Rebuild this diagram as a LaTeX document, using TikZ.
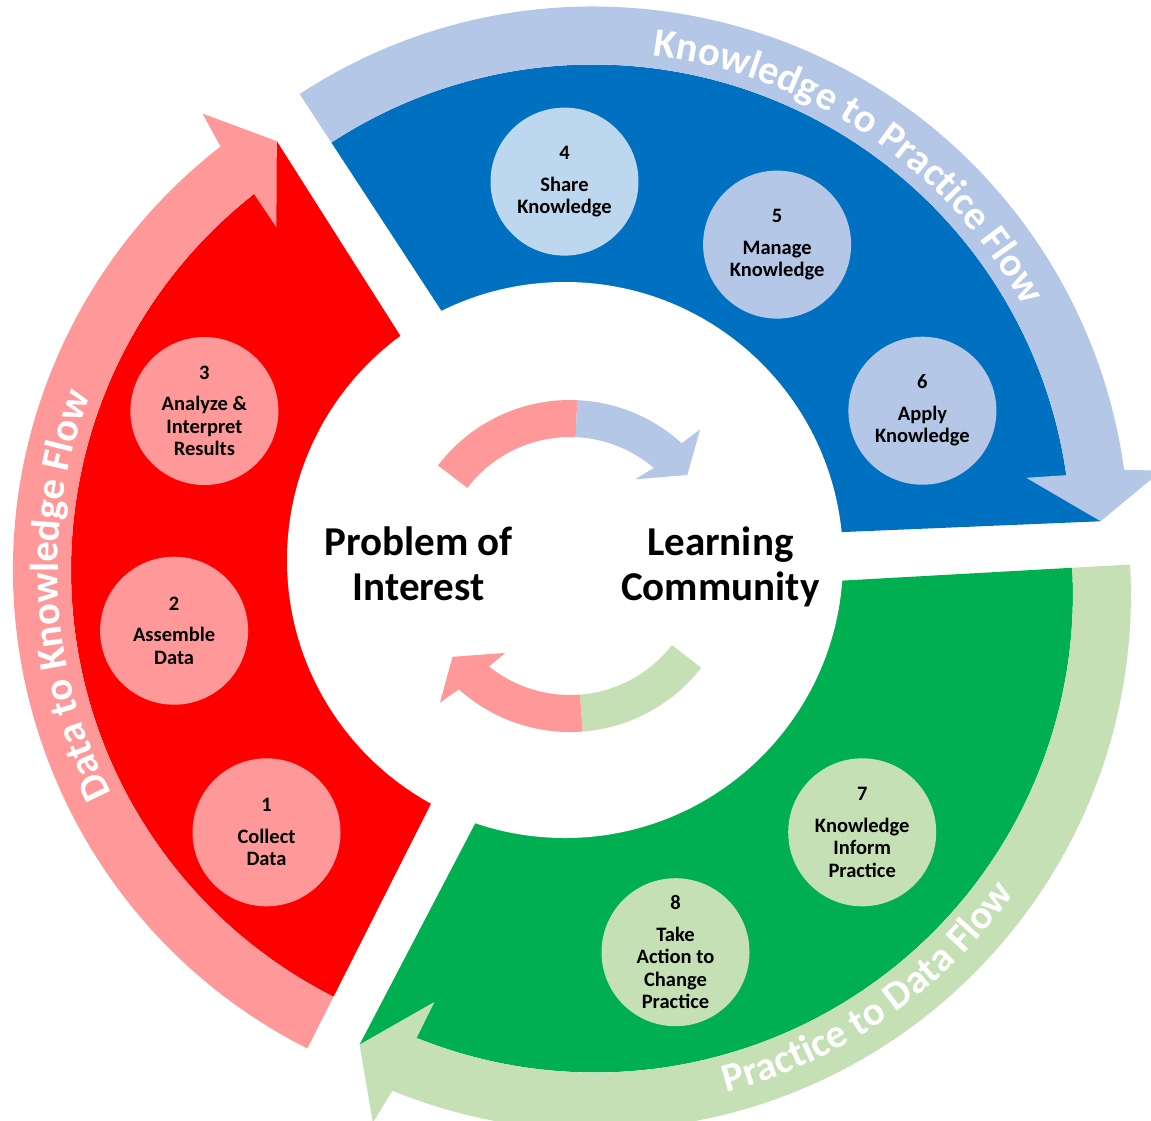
\documentclass[tikz,border=0pt]{standalone}
\usepackage{fontspec}
\setmainfont{Carlito}
\usetikzlibrary{positioning}
\usetikzlibrary{decorations.text}

\definecolor{redsector}{HTML}{FF0000}
\definecolor{pinkband}{HTML}{FF9999}
\definecolor{bluesector}{HTML}{0070C0}
\definecolor{blueband}{HTML}{B4C7E7}
\definecolor{bluecircle}{HTML}{BDD7EE}
\definecolor{greensector}{HTML}{00B050}
\definecolor{greenband}{HTML}{C5E0B4}

\newcommand{\bandfont}{\fontsize{40.5}{48}\selectfont\bfseries}

% one segment: centre, turn, body colour, band colour
\newcommand{\flowseg}[4]{%
  \begin{scope}[shift={(#1)}]
    \fill[#3] ({243.2+#2}:200) -- ({243.2+#2}:478)
      arc[start angle={243.2+#2}, end angle={128.5+#2}, radius=478]
      -- ({122.4+#2}:508) -- ({122.4+#2}:200)
      arc[start angle={122.4+#2}, end angle={243.2+#2}, radius=200] -- cycle;
    \fill[#4] ({243.2+#2}:478) -- ({243.2+#2}:536)
      arc[start angle={243.2+#2}, end angle={127.8+#2}, radius=536]
      -- ({127.2+#2}:573) -- ({122.4+#2}:508) -- ({128.5+#2}:438)
      -- ({128.1+#2}:478)
      arc[start angle={128.1+#2}, end angle={243.2+#2}, radius=478] -- cycle;
  \end{scope}}

\begin{document}
\begin{tikzpicture}[x=1pt,y=1pt,
                    bandtext/.style={decorate,decoration={text along path,
                      text={|\bandfont|#1},text color=white,text align=left}}]
  \tikzstyle{stepdot}=[circle,minimum size=148pt,inner sep=0pt,align=center,
                       text=black,font=\fontsize{20.5}{22.5}\selectfont\bfseries]
  \tikzstyle{hub}=[align=center,inner sep=0pt,text=black,
                   font=\fontsize{41}{45}\selectfont\bfseries]

  \useasboundingbox (0,0) rectangle (1151,-1120);
  \clip (0,0) rectangle (1151,-1120);

  \coordinate (G) at (579,-569);
  \coordinate (Cr) at ([shift={(182:30)}]G);
  \coordinate (Cb) at ([shift={(62:30)}]G);
  \coordinate (Cg) at ([shift={(302:30)}]G);
  \coordinate (W) at (565,-560);
  \coordinate (S) at (570,-566);

  % the three flows
  \flowseg{Cr}{0}{redsector}{pinkband}
  \flowseg{Cb}{240}{bluesector}{blueband}
  \flowseg{Cg}{120}{greensector}{greenband}

  \fill[white] (W) circle[radius=278];

  % small cycle in the middle
  \begin{scope}[shift={(S)}]
    \fill[pinkband] (142.7:166) arc[start angle=142.7, end angle=87.5, radius=166]
      -- (87.5:129) arc[start angle=87.5, end angle=142.7, radius=129] -- cycle;
    \fill[blueband] (87.5:166) arc[start angle=87.5, end angle=47.7, radius=166]
      -- (46.4:188.6) -- (37.8:148.5) -- (53.1:108.4) -- (49.5:129)
      arc[start angle=49.5, end angle=87.5, radius=129] -- cycle;
    \fill[greenband] (322.2:166) arc[start angle=322.2, end angle=274.4, radius=166]
      -- (274.4:129) arc[start angle=274.4, end angle=322.2, radius=129] -- cycle;
    \fill[pinkband] (274.4:166) arc[start angle=274.4, end angle=228, radius=166]
      -- (226.4:188.6) -- (217.7:148.5) -- (233.3:108.4) -- (231.1:129)
      arc[start angle=231.1, end angle=274.4, radius=129] -- cycle;
  \end{scope}

  % steps
  \node[stepdot,fill=pinkband]   (S1) at (266.5,-832.3) {1\\[9pt]Collect\\Data};
  \node[stepdot,fill=pinkband]   (S2) at (174.1,-630.7) {2\\[9pt]Assemble\\Data};
  \node[stepdot,fill=pinkband]   (S3) at (204.4,-411)   {3\\[9pt]Analyze \&\\Interpret\\Results};
  \node[stepdot,fill=bluecircle] (S4) at (564.5,-181.6) {4\\[9pt]Share\\Knowledge};
  \node[stepdot,fill=blueband]   (S5) at (777.1,-244.6) {5\\[9pt]Manage\\Knowledge};
  \node[stepdot,fill=blueband]   (S6) at (922.4,-410.7) {6\\[9pt]Apply\\Knowledge};
  \node[stepdot,fill=greenband]  (S7) at (862.2,-832.3) {7\\[9pt]Knowledge\\Inform\\Practice};
  \node[stepdot,fill=greenband]  (S8) at (675.5,-952.2) {8\\[9pt]Take\\Action to\\Change\\Practice};

  % flow names on the bands
  \path[bandtext={Data to Knowledge Flow}] ([shift={(207.1:491)}]Cr)
    arc[start angle=207.1, end angle=140, radius=491];
  \path[bandtext={Knowledge to Practice Flow}] ([shift={(83:491)}]Cb)
    arc[start angle=83, end angle=15, radius=491];
  \path[bandtext={Practice to Data Flow}] ([shift={(284.8:515)}]Cg)
    arc[start angle=284.8, end angle=345, radius=515];

  \node[hub,anchor=base] (P1) at (418.7,-600) {Problem of\\Interest};
  \node[hub,base right=108pt of P1] (L1) {Learning\\Community};
\end{tikzpicture}
\end{document}
